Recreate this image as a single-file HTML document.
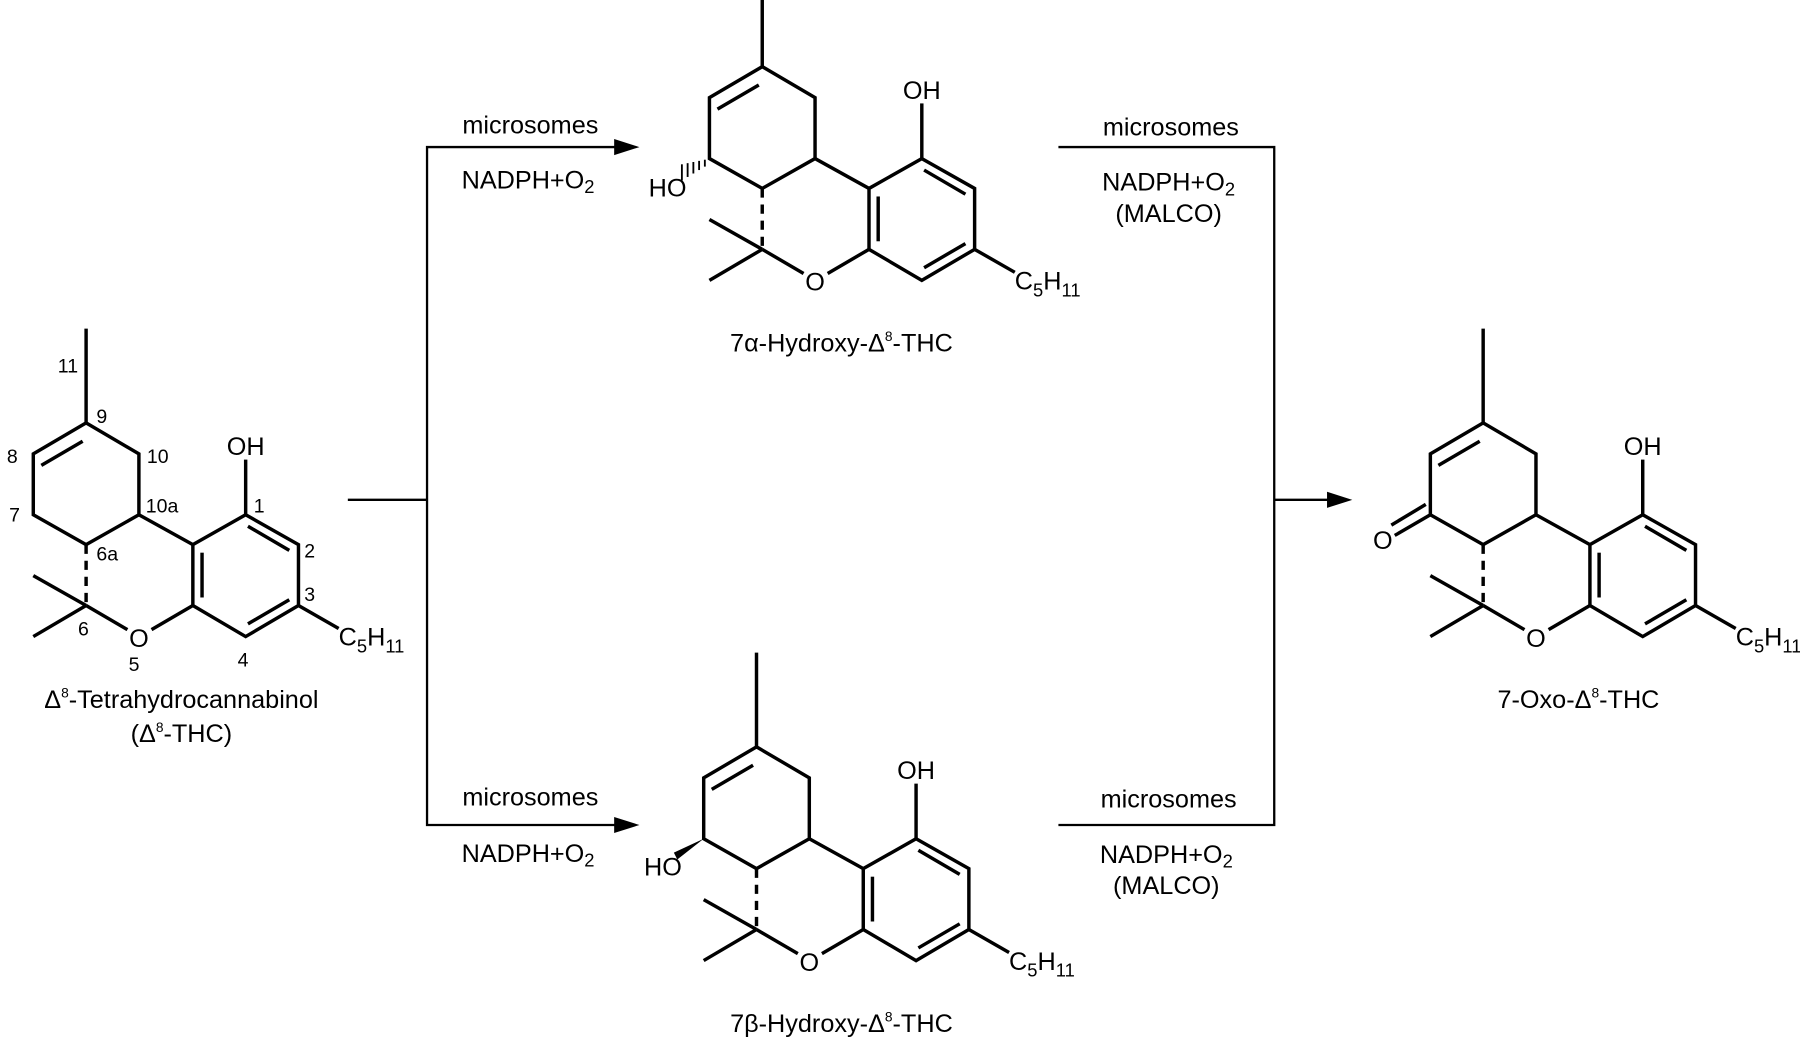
<!DOCTYPE html>
<html><head><meta charset="utf-8"><style>
html,body{margin:0;padding:0;background:#fff;}
svg{display:block;}
text{font-family:"Liberation Sans",sans-serif;fill:#000;}
</style></head><body>
<svg width="1800" height="1041" viewBox="0 0 1568 906" preserveAspectRatio="none" xmlns="http://www.w3.org/2000/svg">
<defs>
<g id="core" stroke="#000" stroke-width="3" fill="none" stroke-linecap="butt">
  <line x1="0" y1="-82" x2="0" y2="0"/>
  <path d="M0,0 L46,27 L46,80 L0,106 L-46,80 L-46,27 Z"/>
  <line x1="-39" y1="37" x2="-3" y2="16"/>
  <line x1="46" y1="80" x2="93" y2="106"/>
  <path d="M93,106 L139,80 L185,106 L185,159 L139,186 L93,159 Z"/>
  <line x1="101" y1="113" x2="101" y2="152"/>
  <line x1="141" y1="90" x2="177" y2="111"/>
  <line x1="177" y1="154" x2="141" y2="175"/>
  <line x1="139" y1="80" x2="139" y2="32"/>
  <line x1="185" y1="159" x2="220" y2="179"/>
  <line x1="0" y1="106" x2="0" y2="159" stroke-dasharray="8,6"/>
  <line x1="0" y1="159" x2="-46" y2="133"/>
  <line x1="0" y1="159" x2="-46" y2="186"/>
  <line x1="0" y1="159" x2="36" y2="180"/>
  <line x1="57" y1="180" x2="93" y2="159"/>
</g>
<g id="lbl">
  <text x="46" y="195" font-size="22" text-anchor="middle">O</text>
  <text x="139" y="28" font-size="22" text-anchor="middle">OH</text>
  <text x="220" y="194" font-size="22">C<tspan font-size="16" dy="6">5</tspan><tspan dy="-6">H</tspan><tspan font-size="16" dy="6">11</tspan></text>
</g>
</defs>

<!-- Molecule 1 -->
<g transform="translate(75,368)"><use href="#core"/><use href="#lbl"/></g>
<g font-size="17">
<text x="68" y="324" text-anchor="end">11</text>
<text x="84" y="368">9</text>
<text x="6" y="403">8</text>
<text x="128" y="403">10</text>
<text x="8" y="454">7</text>
<text x="127" y="446">10a</text>
<text x="84" y="488">6a</text>
<text x="68" y="553">6</text>
<text x="112" y="584">5</text>
<text x="221" y="446">1</text>
<text x="265" y="485">2</text>
<text x="265" y="523">3</text>
<text x="207" y="580">4</text>
</g>
<text x="158" y="616" font-size="22" text-anchor="middle">Δ<tspan font-size="12" dy="-9">8</tspan><tspan dy="9">-Tetrahydrocannabinol</tspan></text>
<text x="158" y="646" font-size="22" text-anchor="middle">(Δ<tspan font-size="12" dy="-9">8</tspan><tspan dy="9">-THC)</tspan></text>

<!-- Molecule 2 alpha -->
<g transform="translate(664,58)"><use href="#core"/><use href="#lbl"/>
  <g stroke="#000" stroke-width="1.6">
    <line x1="-50" y1="81" x2="-50" y2="87"/><line x1="-55" y1="82" x2="-55" y2="90"/><line x1="-60" y1="83" x2="-60" y2="93"/><line x1="-65" y1="84" x2="-65" y2="96"/><line x1="-70" y1="85" x2="-70" y2="99"/>
  </g>
  <text x="-99" y="113" font-size="22">HO</text>
</g>
<text x="733" y="306" font-size="22" text-anchor="middle">7α-Hydroxy-Δ<tspan font-size="12" dy="-9">8</tspan><tspan dy="9">-THC</tspan></text>

<!-- Molecule 3 beta -->
<g transform="translate(659,650)"><use href="#core"/><use href="#lbl"/>
  <polygon points="-46,80 -72,92 -69,98" fill="#000"/>
  <text x="-98" y="112" font-size="22">HO</text>
</g>
<text x="733" y="898" font-size="22" text-anchor="middle">7β-Hydroxy-Δ<tspan font-size="12" dy="-9">8</tspan><tspan dy="9">-THC</tspan></text>

<!-- Molecule 4 oxo -->
<g transform="translate(1292,368)"><use href="#core"/><use href="#lbl"/>
  <g stroke="#000" stroke-width="3"><line x1="-46" y1="80" x2="-77" y2="98"/><line x1="-50" y1="71" x2="-80" y2="89"/></g>
  <text x="-96" y="110" font-size="22">O</text>
</g>
<text x="1375" y="616" font-size="22" text-anchor="middle">7-Oxo-Δ<tspan font-size="12" dy="-9">8</tspan><tspan dy="9">-THC</tspan></text>

<!-- arrows -->
<g stroke="#000" stroke-width="2" fill="none">
  <line x1="303" y1="435" x2="372" y2="435"/>
  <polyline points="537,128 372,128 372,718 537,718"/>
  <polyline points="922,128 1110,128 1110,718 922,718"/>
  <line x1="1110" y1="435" x2="1160" y2="435"/>
</g>
<g fill="#000">
  <polygon points="535,121 557,128 535,135"/>
  <polygon points="535,711 557,718 535,725"/>
  <polygon points="1156,428 1178,435 1156,442"/>
</g>
<g font-size="22" text-anchor="middle">
  <text x="462" y="116">microsomes</text>
  <text x="460" y="164">NADPH+O<tspan font-size="16" dy="4">2</tspan></text>
  <text x="462" y="701">microsomes</text>
  <text x="460" y="750">NADPH+O<tspan font-size="16" dy="4">2</tspan></text>
  <text x="1020" y="118">microsomes</text>
  <text x="1018" y="166">NADPH+O<tspan font-size="16" dy="4">2</tspan></text>
  <text x="1018" y="193">(MALCO)</text>
  <text x="1018" y="703">microsomes</text>
  <text x="1016" y="751">NADPH+O<tspan font-size="16" dy="4">2</tspan></text>
  <text x="1016" y="778">(MALCO)</text>
</g>
</svg>
</body></html>
